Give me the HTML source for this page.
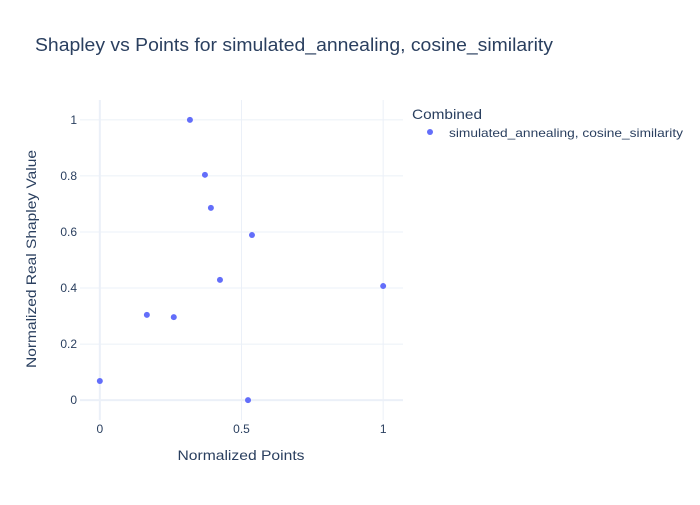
<!DOCTYPE html>
<html><head><meta charset="utf-8"><style>
body{margin:0;background:#fff;font-family:"Liberation Sans",Arial,sans-serif}
svg text{font-family:"Liberation Sans",Arial,sans-serif}
</style></head><body>
<svg id="chart" width="700" height="500">
<rect width="700" height="500" fill="#fff"/>
<g id="grid"></g>
<g id="ticks"></g>
<g id="pts"></g>
<text x="35" y="51" font-size="18" fill="#2a3f5f" textLength="518" lengthAdjust="spacingAndGlyphs">Shapley vs Points for simulated_annealing, cosine_similarity</text>
<text x="241" y="460" font-size="14" fill="#2a3f5f" text-anchor="middle" textLength="127" lengthAdjust="spacingAndGlyphs">Normalized Points</text>
<text transform="translate(36,259) rotate(-90)" font-size="14" fill="#2a3f5f" text-anchor="middle" textLength="218" lengthAdjust="spacingAndGlyphs">Normalized Real Shapley Value</text>
<text x="412" y="119" font-size="14" fill="#2a3f5f" textLength="70" lengthAdjust="spacingAndGlyphs">Combined</text>
<g>
<circle cx="430" cy="132" r="3" fill="#636efa"/>
<text x="449" y="137" font-size="12" fill="#2a3f5f" textLength="234" lengthAdjust="spacingAndGlyphs">simulated_annealing, cosine_similarity</text>
</g>
</svg>
<script>
const xs=[0.318,0.371,0.392,0.537,0.424,1,0.166,0.261,0,0.523];
const ys=[1,0.804,0.686,0.589,0.429,0.407,0.304,0.296,0.068,0];
const xTicks=[0,0.5,1];
const xTickLabels=["0","0.5","1"];
const yTicks=[0,0.2,0.4,0.6,0.8,1];
const yTickLabels=["0","0.2","0.4","0.6","0.8","1"];
const NS="http://www.w3.org/2000/svg";
const L=80,R=403,T=100,B=420,x0=-0.07,x1=1.07,y0=-0.071,y1=1.071;
const sx=v=>L+(v-x0)/(x1-x0)*(R-L);
const sy=v=>B-(v-y0)/(y1-y0)*(B-T);
function mk(tag,a,p){const e=document.createElementNS(NS,tag);for(const k in a)e.setAttribute(k,a[k]);p.appendChild(e);return e;}
const g=document.getElementById('grid'),tk=document.getElementById('ticks'),pg=document.getElementById('pts');
xTicks.forEach((v,i)=>{
 const l=mk('line',{x1:sx(v),x2:sx(v),y1:T,y2:B,stroke:'#ebf0f8','stroke-width':v===0?2:1},g);
 
 
 const t=mk('text',{x:sx(v),y:B+13,'font-size':12,fill:'#2a3f5f','text-anchor':'middle'},tk);
 t.textContent=xTickLabels[i];
 
 
});
yTicks.forEach((v,i)=>{
 const l=mk('line',{x1:L,x2:R,y1:sy(v),y2:sy(v),stroke:'#ebf0f8','stroke-width':v===0?2:1},g);
 
 
 const t=mk('text',{x:L-3,y:sy(v)+4,'font-size':12,fill:'#2a3f5f','text-anchor':'end'},tk);
 t.textContent=yTickLabels[i];
 
 
});
xs.forEach((v,i)=>{
 const c=mk('circle',{cx:sx(v),cy:sy(ys[i]),r:3,fill:'#636efa'},pg);
 
 
});
</script>
</body></html>
